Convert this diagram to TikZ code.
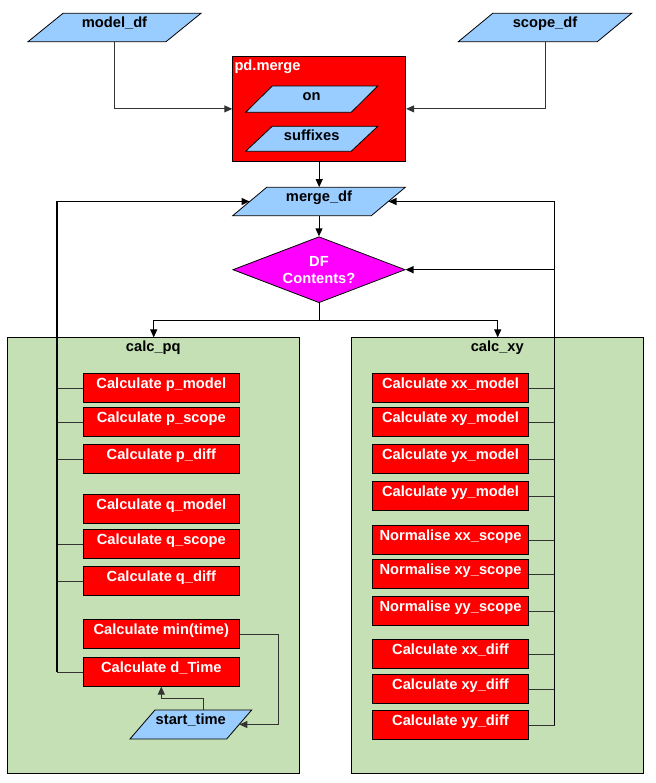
\documentclass[tikz,border=0pt]{standalone}
\usepackage{fontspec}
\setmainfont{Liberation Sans}
\usetikzlibrary{shapes.geometric,arrows.meta,calc}
\definecolor{pblue}{HTML}{99CCFF}
\definecolor{cgreen}{HTML}{C5E0B4}
\definecolor{cred}{HTML}{FF0000}
\definecolor{cmag}{HTML}{FF00FF}
\newcommand\diagfont{\fontsize{14.67pt}{17.3pt}\selectfont\bfseries}
\newcommand\paranode[7]{%
  \filldraw[parashape] ({#2-#4/2-#6},{#3+#5/2}) -- ({#2-#4/2+#6},{#3-#5/2})
     -- ({#2+#4/2+#6},{#3-#5/2}) -- ({#2+#4/2-#6},{#3+#5/2}) -- cycle;
  \pgfmathsetmacro\pdepth{#5-14.5}%
  \node[paratext, minimum width=#4, minimum height=#5, text depth=\pdepth pt] (#1) at (#2,#3) {#7};}
\tikzset{
  parashape/.style={fill=pblue, draw=black, line width=0.8pt},
  paratext/.style={inner sep=0pt, text height=14.5pt, font=\diagfont, text=black},
  calcbox/.style={draw=black, line width=0.8pt, fill=cred, text=white, font=\diagfont,
    minimum width=156.4, inner xsep=0pt, inner ysep=0pt, text height=14.3pt, text depth=14.2pt, anchor=north},
  container/.style={draw=black, line width=0.8pt, fill=cgreen, inner sep=0pt, anchor=north west},
  clabel/.style={font=\diagfont, text=black, anchor=base, inner sep=0pt},
  mergebox/.style={draw=black, line width=0.8pt, fill=cred, inner sep=0pt, anchor=north west},
  whitelab/.style={font=\diagfont, text=white, inner sep=0pt},
  decision/.style={diamond, draw=black, line width=0.8pt, fill=cmag, text=white, font=\diagfont,
    align=center, aspect=2.61, minimum width=172.3, minimum height=66, inner sep=0pt},
  conn/.style={draw=black!80, line width=0.9pt},
  main/.style={draw=black, line width=1pt},
  bus/.style={draw=black, line width=1.4pt},
  arr/.style={-{Triangle[length=8pt,width=7pt]}},
}
\begin{document}
\begin{tikzpicture}[x=1pt,y=-1pt]
\useasboundingbox (0,0) rectangle (655,783);
% containers
\node[container, minimum width=292, minimum height=436] (pq) at (7.3,337.4) {};
\node[container, minimum width=292, minimum height=436] (xy) at (351.3,337.4) {};
\node[clabel] (pqlab) at (153.3,351) {calc\_pq};
\node[clabel] (xylab) at (497.3,351) {calc\_xy};
% pd.merge
\node[mergebox, minimum width=173, minimum height=105] (pdm) at (232.3,56) {};
\node[whitelab, anchor=base west] (pdmlab) at (234.3,70.7) {pd.merge};
% parallelograms
\paranode{model}{114.5}{27.5}{138}{28.4}{17.5}{model\_df}
\paranode{scope}{545}{27.5}{139}{28.4}{17.2}{scope\_df}
\paranode{on}{311.7}{99.2}{105.5}{26.3}{13.3}{on}
\paranode{suff}{311.7}{138.8}{105.5}{25}{13.3}{suffixes}
\paranode{merge}{319}{201.5}{138.6}{28.4}{17}{merge\_df}
\paranode{start}{190.8}{724.5}{96.7}{29}{12.5}{start\_time}
% decision
\node[decision] (dia) at (319,269.7) {DF\\Contents?};
% left boxes
\node[calcbox] (pm) at (161.3,373.3) {Calculate p\_model};
\node[calcbox] (ps) at (161.3,407.3) {Calculate p\_scope};
\node[calcbox] (pd) at (161.3,444.3) {Calculate p\_diff};
\node[calcbox] (qm) at (161.3,494.3) {Calculate q\_model};
\node[calcbox] (qs) at (161.3,529.3) {Calculate q\_scope};
\node[calcbox] (qd) at (161.3,566.3) {Calculate q\_diff};
\node[calcbox] (mint) at (161.3,619.3) {Calculate min(time)};
\node[calcbox] (dtime) at (161.3,657.3) {Calculate d\_Time};
% right boxes
\node[calcbox] (xxm) at (450.5,373.3) {Calculate xx\_model};
\node[calcbox] (xym) at (450.5,407.3) {Calculate xy\_model};
\node[calcbox] (yxm) at (450.5,444.3) {Calculate yx\_model};
\node[calcbox] (yym) at (450.5,481.3) {Calculate yy\_model};
\node[calcbox] (nxx) at (450.5,525.3) {Normalise xx\_scope};
\node[calcbox] (nxy) at (450.5,559.3) {Normalise xy\_scope};
\node[calcbox] (nyy) at (450.5,596.3) {Normalise yy\_scope};
\node[calcbox] (xxd) at (450.5,639.3) {Calculate xx\_diff};
\node[calcbox] (xyd) at (450.5,674.3) {Calculate xy\_diff};
\node[calcbox] (yyd) at (450.5,710.3) {Calculate yy\_diff};
% top connectors
\draw[conn,arr] (model.south) |- (pdm.west);
\draw[conn,arr] (scope.south) |- (pdm.east);
\draw[main,arr] (pdm.south) -- (pdm.south |- merge.north);
\draw[main,arr] (merge.south) -- (dia.north);
\draw[main,arr] (dia.south) -- ++(0,17.3) -| (pq.north);
\draw[main,arr] (dia.south) -- ++(0,17.3) -| (xy.north);
% buses
\coordinate (lbus) at (57,400);
\coordinate (rbus) at (554.5,400);
\foreach \b in {pm,ps,pd,qs,qd,dtime} \draw[conn] (\b.west) -- (\b.west -| lbus);
\foreach \b in {xxm,xym,yxm,yym,nxx,nxy,nyy,xxd,xyd,yyd} \draw[conn] (\b.east) -- (\b.east -| rbus);
\draw[bus,arr] (dtime.west -| lbus) |- (merge.west);
\draw[bus,arr] (yyd.east -| rbus) |- (merge.east);
\draw[bus,arr] (rbus |- dia.east) -- (dia.east);
% start_time loop
\draw[conn,arr] (mint.east) -- ++(39,0) |- (start.east);
\draw[conn,arr] ([xshift=12.5pt]start.north) -- ++(0,-11.7) -| (dtime.south);
\end{tikzpicture}
\end{document}
